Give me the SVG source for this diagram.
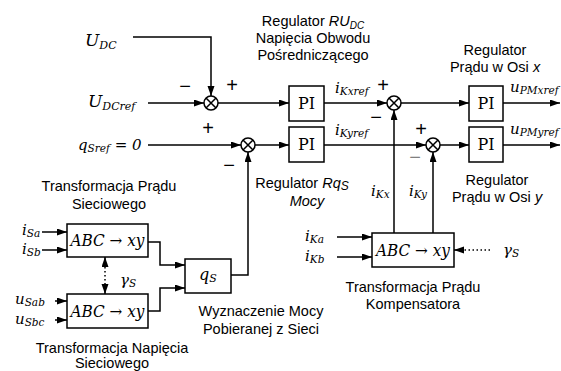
<svg xmlns="http://www.w3.org/2000/svg" width="561" height="371" viewBox="0 0 561 371">
<defs>
<marker id="ah" markerUnits="userSpaceOnUse" markerWidth="11" markerHeight="8" refX="10" refY="3.5" orient="auto"><path d="M0,0 L10,3.5 L0,7 z" fill="#000"/></marker>
</defs>
<style>
.ln{fill:none;stroke:#000;stroke-width:1.5}
.ar{fill:none;stroke:#000;stroke-width:1.5;marker-end:url(#ah)}
.dt{fill:none;stroke:#000;stroke-width:1.5;stroke-dasharray:1.5 2.5}
.bx{fill:#fff;stroke:#000;stroke-width:1.5}
.m{font-style:italic;font-size:15px;fill:#000}
.sb{font-size:10.5px}
.pi{font-size:16px;fill:#000;text-anchor:middle}
.lb{font-size:14.5px;fill:#000;text-anchor:middle}
.it{font-style:italic}
.sg{font-size:20px;fill:#000;text-anchor:middle}
</style>
<rect width="561" height="371" fill="#fff"/>

<g id="connectors">
<polyline class="ar" points="133,37 211,37 211,96"/>
<line class="ar" x1="148" y1="103" x2="204" y2="103"/>
<line class="ar" x1="218" y1="103" x2="289" y2="103"/>
<line class="ar" x1="324" y1="103" x2="387" y2="103"/>
<line class="ar" x1="401" y1="103" x2="469" y2="103"/>
<line class="ar" x1="503" y1="103" x2="560" y2="103"/>
<line class="ar" x1="148" y1="145" x2="241" y2="145"/>
<line class="ar" x1="255" y1="145" x2="289" y2="145"/>
<line class="ar" x1="324" y1="145" x2="426" y2="145"/>
<line class="ar" x1="440" y1="145" x2="469" y2="145"/>
<line class="ar" x1="503" y1="145" x2="560" y2="145"/>
<line class="ar" x1="394" y1="233" x2="394" y2="110"/>
<line class="ar" x1="433" y1="233" x2="433" y2="152"/>
<line class="ar" x1="337" y1="237" x2="372" y2="237"/>
<line class="ar" x1="337" y1="257" x2="372" y2="257"/>
<line class="dt" x1="490" y1="250" x2="462" y2="250"/>
<line class="ar" x1="463" y1="250" x2="454" y2="250"/>
<line class="ar" x1="42" y1="232" x2="67" y2="232"/>
<line class="ar" x1="42" y1="250" x2="67" y2="250"/>
<line class="ar" x1="55" y1="301" x2="67" y2="301"/>
<line class="ar" x1="55" y1="320" x2="67" y2="320"/>
<polyline class="ar" points="148,242 160,242 160,265 185,265"/>
<polyline class="ar" points="148,311 160,311 160,288 185,288"/>
<polyline class="ar" points="231,275 248,275 248,152"/>
<line class="dt" x1="105" y1="267" x2="105" y2="284"/>
<line class="ar" x1="105" y1="267" x2="105" y2="257"/>
<line class="ar" x1="105" y1="284" x2="105" y2="294"/>
</g>

<g id="sum1"><circle class="bx" cx="211" cy="103" r="7"/><path class="ln" d="M206,98 L216,108 M216,98 L206,108"/></g>
<g id="sum2"><circle class="bx" cx="248" cy="145" r="7"/><path class="ln" d="M243,140 L253,150 M253,140 L243,150"/></g>
<g id="sum3"><circle class="bx" cx="394" cy="103" r="7"/><path class="ln" d="M389,98 L399,108 M399,98 L389,108"/></g>
<g id="sum4"><circle class="bx" cx="433" cy="145" r="7"/><path class="ln" d="M428,140 L438,150 M438,140 L428,150"/></g>

<g font-family="DejaVu Serif, Liberation Serif, serif">
<g id="pi1"><rect class="bx" x="289" y="86" width="35" height="35"/><text class="pi" x="306.5" y="109">PI</text></g>
<g id="pi2"><rect class="bx" x="289" y="127" width="35" height="35"/><text class="pi" x="306.5" y="150">PI</text></g>
<g id="pi3"><rect class="bx" x="469" y="86" width="34" height="35"/><text class="pi" x="486" y="109">PI</text></g>
<g id="pi4"><rect class="bx" x="469" y="127" width="34" height="35"/><text class="pi" x="486" y="150">PI</text></g>

<g id="abcK"><rect class="bx" x="372" y="233" width="82" height="34"/><text class="m" x="413" y="256" style="font-size:16px" text-anchor="middle" textLength="74" lengthAdjust="spacingAndGlyphs">ABC → xy</text></g>
<g id="abcS1"><rect class="bx" x="67" y="224" width="81" height="33"/><text class="m" x="107.5" y="246" style="font-size:16px" text-anchor="middle" textLength="74" lengthAdjust="spacingAndGlyphs">ABC → xy</text></g>
<g id="abcS2"><rect class="bx" x="67" y="294" width="81" height="34"/><text class="m" x="107.5" y="317" style="font-size:16px" text-anchor="middle" textLength="74" lengthAdjust="spacingAndGlyphs">ABC → xy</text></g>
<g id="qS"><rect class="bx" x="185" y="259" width="46" height="34"/><text class="m" x="199" y="280" style="font-size:16px">q<tspan class="sb" style="font-size:11px" dy="2">S</tspan></text></g>

<g id="mathlabels">
<text class="m" x="85" y="46" style="font-size:17px">U<tspan class="sb" style="font-size:11px" dy="3">DC</tspan></text>
<text class="m" x="88" y="107" style="font-size:17px">U<tspan class="sb" style="font-size:11px" dy="3">DCref</tspan></text>
<text class="m" x="78" y="150">q<tspan class="sb" dy="2">Sref</tspan><tspan dy="-2"> = 0</tspan></text>
<text class="m" x="335" y="93">i<tspan class="sb" dy="2">Kxref</tspan></text>
<text class="m" x="335" y="135">i<tspan class="sb" dy="2">Kyref</tspan></text>
<text class="m" x="510" y="92">u<tspan class="sb" dy="2">PMxref</tspan></text>
<text class="m" x="510" y="134">u<tspan class="sb" dy="2">PMyref</tspan></text>
<text class="m" x="371" y="196">i<tspan class="sb" dy="2">Kx</tspan></text>
<text class="m" x="409" y="196">i<tspan class="sb" dy="2">Ky</tspan></text>
<text class="m" x="305" y="241">i<tspan class="sb" dy="2">Ka</tspan></text>
<text class="m" x="305" y="261">i<tspan class="sb" dy="2">Kb</tspan></text>
<text class="m" x="503" y="255">γ<tspan class="sb" dy="2">S</tspan></text>
<text class="m" x="22" y="235">i<tspan class="sb" dy="2">Sa</tspan></text>
<text class="m" x="22" y="254">i<tspan class="sb" dy="2">Sb</tspan></text>
<text class="m" x="15" y="304">u<tspan class="sb" dy="2">Sab</tspan></text>
<text class="m" x="15" y="324">u<tspan class="sb" dy="2">Sbc</tspan></text>
<text class="m" x="120" y="285">γ<tspan class="sb" dy="2">S</tspan></text>
</g>
</g>

<g id="signs" font-family="Liberation Sans, Arial, sans-serif">
<text class="sg" x="185" y="93">−</text>
<text class="sg" x="232" y="92">+</text>
<text class="sg" x="208" y="135">+</text>
<text class="sg" x="229" y="172">−</text>
<text class="sg" x="383" y="92">+</text>
<text class="sg" x="376" y="124">−</text>
<text class="sg" x="421" y="136">+</text>
<text class="sg" x="415" y="164" style="fill:#808080">−</text>
</g>

<g id="textlabels" font-family="Liberation Sans, Arial, sans-serif">
<text class="lb" x="313" y="26">Regulator <tspan class="it">RU</tspan><tspan class="it" style="font-size:10px" dy="3">DC</tspan></text>
<text class="lb" x="313" y="43">Napięcia Obwodu</text>
<text class="lb" x="313" y="60">Pośredniczącego</text>
<text class="lb" x="495" y="55">Regulator</text>
<text class="lb" x="495" y="72">Prądu w Osi <tspan class="it">x</tspan></text>
<text class="lb" x="302" y="188">Regulator <tspan class="it">Rq</tspan><tspan class="it" style="font-size:12px" dy="2">S</tspan></text>
<text class="lb it" x="307" y="206">Mocy</text>
<text class="lb" x="497" y="185">Regulator</text>
<text class="lb" x="497" y="202">Prądu w Osi  <tspan class="it">y</tspan></text>
<text class="lb" x="413" y="292">Transformacja Prądu</text>
<text class="lb" x="413" y="309">Kompensatora</text>
<text class="lb" x="109" y="191">Transformacja Prądu</text>
<text class="lb" x="109" y="209">Sieciowego</text>
<text class="lb" x="261" y="316">Wyznaczenie Mocy</text>
<text class="lb" x="261" y="334">Pobieranej z Sieci</text>
<text class="lb" x="112" y="353">Transformacja Napięcia</text>
<text class="lb" x="112" y="368">Sieciowego</text>
</g>
</svg>
